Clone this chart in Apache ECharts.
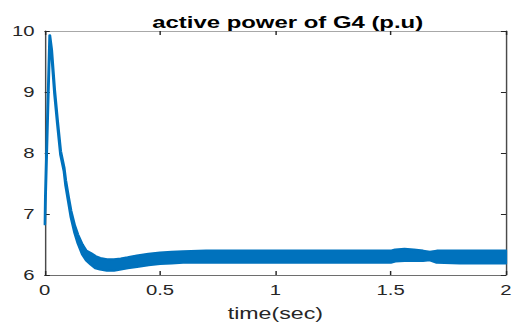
<!DOCTYPE html>
<html>
<head>
<meta charset="utf-8">
<script src="https://cdn.jsdelivr.net/npm/echarts@6/dist/echarts.min.js"></script>
<style>
  html, body { margin: 0; padding: 0; background: #fff; overflow: hidden; }
  /* the figure is laid out narrow and widened horizontally */
  #chart { width: 356px; height: 326px; transform: scaleX(1.4494); transform-origin: 0 0; }
</style>
</head>
<body>
<div id="chart"></div>
<script>
// Sample times (s) and the lower / upper envelope of the oscillating active power (p.u)
const timeSec = [0, 0.022, 0.03, 0.043, 0.055, 0.069, 0.084, 0.091, 0.103, 0.114, 0.13, 0.144, 0.163, 0.18,
  0.2, 0.22, 0.24, 0.27, 0.3, 0.33, 0.36, 0.4, 0.45, 0.5, 0.55, 0.6, 0.7, 0.8, 0.9, 1.0, 1.1, 1.2, 1.3,
  1.4, 1.5, 1.52, 1.56, 1.6, 1.64, 1.67, 1.7, 1.8, 1.9, 2.0];
const powerLow = [6.83, 9.93, 9.63, 8.97, 8.49, 7.97, 7.70, 7.47, 7.20, 6.95, 6.69, 6.52, 6.34, 6.24,
  6.17, 6.11, 6.09, 6.07, 6.07, 6.09, 6.11, 6.13, 6.16, 6.18, 6.19, 6.20, 6.20, 6.20, 6.20, 6.20, 6.20, 6.20, 6.20,
  6.20, 6.20, 6.22, 6.23, 6.23, 6.23, 6.24, 6.20, 6.19, 6.19, 6.19];
const powerHigh = [6.83, 9.93, 9.69, 9.03, 8.55, 8.03, 7.76, 7.55, 7.28, 7.05, 6.81, 6.66, 6.50, 6.40,
  6.36, 6.31, 6.28, 6.26, 6.26, 6.27, 6.29, 6.32, 6.35, 6.37, 6.38, 6.39, 6.40, 6.40, 6.40, 6.40, 6.40, 6.40, 6.40,
  6.40, 6.40, 6.42, 6.43, 6.42, 6.40, 6.38, 6.40, 6.40, 6.40, 6.40];

// Axis ticks
const xTicks = [0, 0.5, 1, 1.5, 2];
const yTicks = [6, 7, 8, 9, 10];

const lineColor = '#0072BD';
const textColor = '#262626';
const font = 'Liberation Sans, Arial, sans-serif';

const chart = echarts.init(document.getElementById('chart'), null, { renderer: 'svg' });

const xBase = {
  type: 'value',
  min: xTicks[0],
  max: xTicks[xTicks.length - 1],
  interval: xTicks[1] - xTicks[0],
  splitLine: { show: false },
  axisTick: { inside: true, length: 4, lineStyle: { color: textColor, width: 1 } }
};
const yBase = {
  type: 'value',
  min: yTicks[0],
  max: yTicks[yTicks.length - 1],
  interval: yTicks[1] - yTicks[0],
  splitLine: { show: false },
  axisTick: { inside: true, length: 3.5, lineStyle: { color: textColor, width: 1 } }
};

chart.setOption({
  animation: false,
  backgroundColor: '#fff',
  title: {
    text: 'active power of G4 (p.u)',
    left: 193.5,
    top: 8,
    textAlign: 'center',
    textStyle: { fontFamily: font, fontSize: 16.5, fontWeight: 'bold', color: '#000' }
  },
  grid: { left: 30.84, right: 3.45, top: 31, bottom: 50, containLabel: false },
  xAxis: [
    Object.assign({}, xBase, {
      position: 'bottom',
      axisLine: { show: true, onZero: false, lineStyle: { color: '#6e6e6e', width: 1 } },
      axisLabel: { fontFamily: font, fontSize: 14, color: textColor, margin: 8 },
      name: 'time(sec)',
      nameLocation: 'middle',
      nameGap: 30,
      nameTextStyle: { fontFamily: font, fontSize: 16, color: textColor }
    }),
    Object.assign({}, xBase, {
      position: 'top',
      axisLine: { show: true, onZero: false, lineStyle: { color: '#a8a8a8', width: 1 } },
      axisLabel: { show: false }
    })
  ],
  yAxis: [
    Object.assign({}, yBase, {
      position: 'left',
      axisLine: { show: true, onZero: false, lineStyle: { color: '#4a4a4a', width: 1 } },
      axisLabel: { fontFamily: font, fontSize: 14, color: textColor, margin: 7 }
    }),
    Object.assign({}, yBase, {
      position: 'right',
      axisLine: { show: true, onZero: false, lineStyle: { color: '#4a4a4a', width: 1 } },
      axisLabel: { show: false }
    })
  ],
  series: [{
    type: 'custom',
    coordinateSystem: 'cartesian2d',
    xAxisIndex: 0,
    yAxisIndex: 0,
    clip: true,
    data: [[timeSec[0], powerLow[0]]],
    renderItem: function (params, api) {
      // band between the envelopes: upper edge forward, lower edge back
      const pts = [];
      for (let i = 0; i < timeSec.length; i++) pts.push(api.coord([timeSec[i], powerHigh[i]]));
      for (let i = timeSec.length - 1; i >= 0; i--) pts.push(api.coord([timeSec[i], powerLow[i]]));
      return {
        type: 'polygon',
        shape: { points: pts },
        style: { fill: lineColor, stroke: lineColor, lineWidth: 2, lineJoin: 'round' }
      };
    }
  }]
});
</script>
</body>
</html>
